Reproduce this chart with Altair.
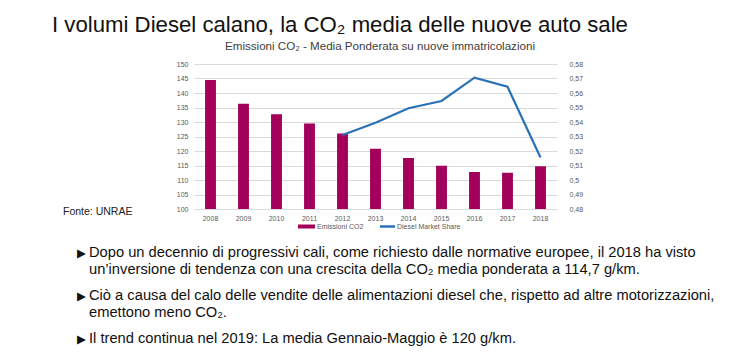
import altair as alt
import pandas as pd

years = ["2008", "2009", "2010", "2011", "2012", "2013", "2014", "2015", "2016", "2017", "2018"]
co2 = [144.5, 136.3, 132.7, 129.5, 126.0, 120.8, 117.6, 114.9, 112.8, 112.5, 114.7]
diesel_share = [None, None, None, None, 0.531, 0.5395, 0.5495, 0.5545, 0.5706, 0.5643, 0.5155]

title_text = "I volumi Diesel calano, la CO\u2082 media delle nuove auto sale"
subtitle_text = "Emissioni CO\u2082 - Media Ponderata su nuove immatricolazioni"
source_text = "Fonte: UNRAE"
legend_labels = ["Emissioni CO2", "Diesel Market Share"]
bullet_lines = [
    ("\u25B6", "Dopo un decennio di progressivi cali, come richiesto dalle normative europee, il 2018 ha visto"),
    ("", "un\u2019inversione di tendenza con una crescita della CO\u2082 media ponderata a 114,7 g/km."),
    ("\u25B6", "Ci\u00f2 a causa del calo delle vendite delle alimentazioni diesel che, rispetto ad altre motorizzazioni,"),
    ("", "emettono meno CO\u2082."),
    ("\u25B6", "Il trend continua nel 2019: La media Gennaio-Maggio \u00e8 120 g/km."),
]

BAR_COLOR = "#A3005B"
LINE_COLOR = "#2A72B8"
AXIS_COLOR = "#595959"

df = pd.DataFrame({"year": years, "co2": co2, "share": diesel_share})

PLOT_W, PLOT_H = 363, 145
LEFT, TOP = 194, 64

x_enc = alt.X("year:O", sort=years,
              scale=alt.Scale(paddingInner=0.67, paddingOuter=0.335),
              axis=alt.Axis(title=None, labelAngle=0, labelFontSize=7, labelColor=AXIS_COLOR,
                            labelFont="Liberation Sans", domain=False, ticks=False, labelPadding=5))

bars = alt.Chart(df).mark_bar(color=BAR_COLOR, clip=True).encode(
    x=x_enc,
    y=alt.Y("co2:Q", scale=alt.Scale(domain=[100, 150], zero=False, nice=False),
            axis=alt.Axis(title=None, values=list(range(100, 151, 5)), labelFontSize=7,
                          labelColor=AXIS_COLOR, labelFont="Liberation Sans", domain=False,
                          ticks=False, labelPadding=6, gridColor="#DADADA", gridWidth=1)),
)

line = alt.Chart(df).mark_line(color=LINE_COLOR, strokeWidth=2.2).encode(
    x=alt.X("year:O", sort=years),
    y=alt.Y("share:Q", scale=alt.Scale(domain=[0.48, 0.58], zero=False, nice=False),
            axis=alt.Axis(title=None, orient="right", grid=False,
                          values=[round(0.48 + 0.01 * i, 2) for i in range(11)],
                          labelExpr="replace(format(datum.value, '.2~f'), '.', ',')",
                          labelFontSize=7, labelColor=AXIS_COLOR, labelFont="Liberation Sans",
                          domain=False, ticks=False, labelPadding=12)),
)

one = pd.DataFrame({"k": [0]})


def txt(text, x, y, size, color="#111111", font="Liberation Sans", align="left", weight="normal"):
    return alt.Chart(one).mark_text(text=text, align=align, baseline="alphabetic", fontSize=size,
                                    color=color, font=font, fontWeight=weight).encode(
        x=alt.value(x), y=alt.value(y))


layers = [bars, line]
layers.append(txt(title_text, 52 - LEFT, 32 - TOP, 22.2, color="#111111"))
layers.append(txt(subtitle_text, 380 - LEFT, 50 - TOP, 11.6, color="#404040", align="center"))
layers.append(txt(source_text, 63 - LEFT, 215 - TOP, 10.5, color="#222222"))

# manual legend
layers.append(alt.Chart(one).mark_rect(color=BAR_COLOR).encode(
    x=alt.value(298 - LEFT), x2=alt.value(315 - LEFT),
    y=alt.value(224.5 - TOP), y2=alt.value(228.5 - TOP)))
layers.append(txt(legend_labels[0], 317 - LEFT, 229 - TOP, 7, color=AXIS_COLOR))
layers.append(alt.Chart(one).mark_rule(color=LINE_COLOR, strokeWidth=2.5).encode(
    x=alt.value(380 - LEFT), x2=alt.value(395 - LEFT), y=alt.value(226.5 - TOP)))
layers.append(txt(legend_labels[1], 397 - LEFT, 229 - TOP, 7, color=AXIS_COLOR))

baselines = [257, 274, 300, 317, 343]
for (b, t), yb in zip(bullet_lines, baselines):
    if b:
        layers.append(txt(b, 77 - LEFT, yb - 0.5 - TOP, 11.5, color="#111111", font="DejaVu Sans"))
    layers.append(txt(t, 89 - LEFT, yb - TOP, 14.7, color="#111111"))

chart = alt.layer(*layers).resolve_scale(y="independent").properties(
    width=PLOT_W, height=PLOT_H,
    autosize=alt.AutoSizeParams(type="none"),
    padding={"left": LEFT, "top": TOP, "right": 750 - LEFT - PLOT_W, "bottom": 352 - TOP - PLOT_H},
    background="white",
).configure_view(stroke=None)

chart.save("out.html", embed_options={"renderer": "svg", "actions": False})
